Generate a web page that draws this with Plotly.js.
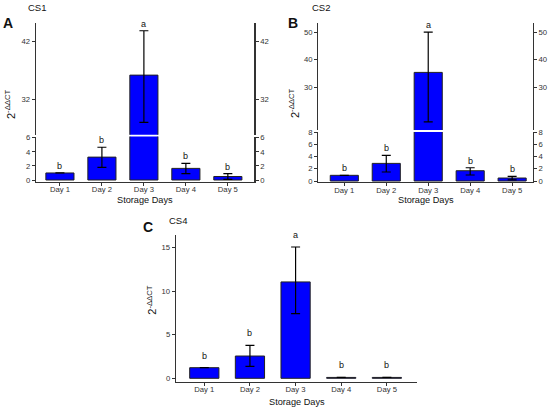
<!DOCTYPE html>
<html><head><meta charset="utf-8">
<script src="https://cdn.plot.ly/plotly-3.0.1.min.js"></script>
<style>html,body{margin:0;padding:0;background:#fff}#chart{width:550px;height:410px}</style>
</head><body><div id="chart"></div>
<script>
var days = ['Day 1','Day 2','Day 3','Day 4','Day 5'];
var cs1Mean = [1.0, 3.25, 36.2, 1.65, 0.5];
var cs1Up   = [0, 1.4, 7.7, 0.7, 0.4];
var cs1Down = [0, 1.45, 8.2, 0.75, 0.4];
var cs2Mean = [0.93, 2.88, 35.4, 1.68, 0.49];
var cs2Up   = [0, 1.31, 14.6, 0.49, 0.28];
var cs2Down = [0, 1.41, 17.9, 0.7, 0.3];
var cs4Mean = [1.22, 2.56, 11.07, 0.1, 0.1];
var cs4Up   = [0, 1.23, 4.01, 0, 0];
var cs4Down = [0, 1.18, 3.64, 0, 0];
var letters = ['b','b','a','b','b'];
var cs1LowTicks = [0,2,4,6], cs1HighTicks = [32,42];
var cs2LowTicks = [0,2,4,6,8], cs2HighTicks = [30,40,50];
var cs4Ticks = [0,5,10,15];

var FONT = 'Liberation Sans, Arial, sans-serif';
var AX = '#333';
function H(px){ return 1 - px/410; }
function W(px){ return px/550; }

function bar(mean, up, down, xa, ya, width){
  return {type:'bar', x:days, y:mean, xaxis:xa, yaxis:ya, width:width,
    marker:{color:'#0000ff', line:{color:'#222', width:1}},
    error_y:{type:'data', symmetric:false, array:up, arrayminus:down, color:'#000', thickness:1.2, width:4.5},
    showlegend:false, hoverinfo:'skip'};
}
function ghost(mean, xa, ya){
  return {type:'scatter', mode:'markers', x:days, y:mean, xaxis:xa, yaxis:ya,
    marker:{opacity:0, size:1}, showlegend:false, hoverinfo:'skip'};
}
function yax(o){
  var a = {showgrid:false, zeroline:false, showline:true, linecolor:AX, linewidth:1.3,
    ticks:'outside', ticklen:3, tickcolor:AX, tickwidth:1, tickmode:'array',
    tickfont:{family:FONT, size:7.7, color:'#333'}, fixedrange:true};
  for (var k in o) a[k]=o[k];
  return a;
}
function xax(o){
  var a = {type:'category', showgrid:false, zeroline:false, showline:true, linecolor:AX, linewidth:1.3,
    ticks:'outside', ticklen:3, tickcolor:AX, tickwidth:1, ticklabelstandoff:-3,
    tickfont:{family:FONT, size:7.7, color:'#333'}, fixedrange:true};
  for (var k in o) a[k]=o[k];
  return a;
}

var traces = [
  bar(cs1Mean, cs1Up, cs1Down, 'x', 'y', 0.67),
  bar(cs1Mean, cs1Up, cs1Down, 'x', 'y2', 0.67),
  ghost(cs1Mean, 'x', 'y3'), ghost(cs1Mean, 'x', 'y4'),
  bar(cs2Mean, cs2Up, cs2Down, 'x2', 'y5', 0.67),
  bar(cs2Mean, cs2Up, cs2Down, 'x2', 'y6', 0.67),
  ghost(cs2Mean, 'x2', 'y7'), ghost(cs2Mean, 'x2', 'y8'),
  bar(cs4Mean, cs4Up, cs4Down, 'x3', 'y9', 0.64)
];

var A_low = [H(181.7), H(136.6)], A_high = [H(134.8), H(22.7)];
var B_low = [H(182), H(131.9)], B_high = [H(130.1), H(22.7)];

var layout = {
  width:550, height:410, margin:{l:0,r:0,t:0,b:0},
  paper_bgcolor:'#fff', plot_bgcolor:'rgba(0,0,0,0)',
  bargap:0.3,
  xaxis: xax({domain:[W(36), W(254.3)], range:[-0.57, 4.63], anchor:'y'}),
  yaxis: yax({domain:A_low, range:[-0.24, 6.16], tickvals:cs1LowTicks, anchor:'x'}),
  yaxis2: yax({domain:A_high, range:[25.84, 45.3], tickvals:cs1HighTicks, anchor:'x'}),
  yaxis3: yax({overlaying:'y', side:'right', range:[-0.24, 6.16], tickvals:cs1LowTicks, anchor:'x'}),
  yaxis4: yax({overlaying:'y2', side:'right', range:[25.84, 45.3], tickvals:cs1HighTicks, anchor:'x'}),
  xaxis2: xax({domain:[W(318.3), W(532.7)], range:[-0.62, 4.49], anchor:'y5'}),
  yaxis5: yax({domain:B_low, range:[-0.16, 8.02], tickvals:cs2LowTicks, anchor:'x2'}),
  yaxis6: yax({domain:B_high, range:[14.5, 53.4], tickvals:cs2HighTicks, anchor:'x2'}),
  yaxis7: yax({overlaying:'y5', side:'right', range:[-0.16, 8.02], tickvals:cs2LowTicks, anchor:'x2'}),
  yaxis8: yax({overlaying:'y6', side:'right', range:[14.5, 53.4], tickvals:cs2HighTicks, anchor:'x2'}),
  xaxis3: xax({domain:[W(176), W(417)], range:[-0.62, 4.66], anchor:'y9'}),
  yaxis9: yax({domain:[H(381.7), H(235)], range:[-0.39, 16.46], tickvals:cs4Ticks, anchor:'x3'}),
  annotations: []
};

var ann = layout.annotations;
function txt(t, x, y, size, opts){
  var a = {text:t, xref:'paper', yref:'paper', x:W(x), y:H(y), showarrow:false,
    font:{family:FONT, size:size, color:'#111'}, xanchor:'center', yanchor:'middle'};
  for (var k in opts) a[k]=opts[k];
  ann.push(a);
}
// panel titles
txt('CS1', 25.7, 7.5, 9.5, {xanchor:'left'});
txt('<b>A</b>', 8, 22.7, 14);
txt('CS2', 310, 7.5, 9.5, {xanchor:'left'});
txt('<b>B</b>', 292.5, 23.3, 14);
txt('CS4', 167.3, 220.7, 9.5, {xanchor:'left'});
txt('<b>C</b>', 148, 226.7, 14);
// axis titles
var ytitle = '2<sup>-ΔΔCT</sup>';
txt(ytitle, 10, 104, 11, {textangle:-90});
txt(ytitle, 294, 103, 11, {textangle:-90});
txt(ytitle, 151.7, 300, 11, {textangle:-90});
txt('Storage Days', 145, 200, 9.2);
txt('Storage Days', 425.5, 200, 9.2);
txt('Storage Days', 296.5, 401.5, 9.2);

function letterAnn(mean, up, xa, yLow, yHigh, lim, shift){
  for (var i=0;i<days.length;i++){
    var top = mean[i]+up[i];
    ann.push({text:letters[i], xref:xa, yref:(top>lim? yHigh : yLow), x:days[i], y:top,
      showarrow:false, yanchor:'bottom', yshift:shift,
      font:{family:FONT, size:9, color:'#111'}});
  }
}
letterAnn(cs1Mean, cs1Up, 'x', 'y', 'y2', 6.16, 0);
letterAnn(cs2Mean, cs2Up, 'x2', 'y5', 'y6', 8.02, 0);
letterAnn(cs4Mean, cs4Up, 'x3', 'y9', 'y9', 1e9, 5);

Plotly.newPlot('chart', traces, layout, {staticPlot:true, displayModeBar:false});
</script></body></html>
